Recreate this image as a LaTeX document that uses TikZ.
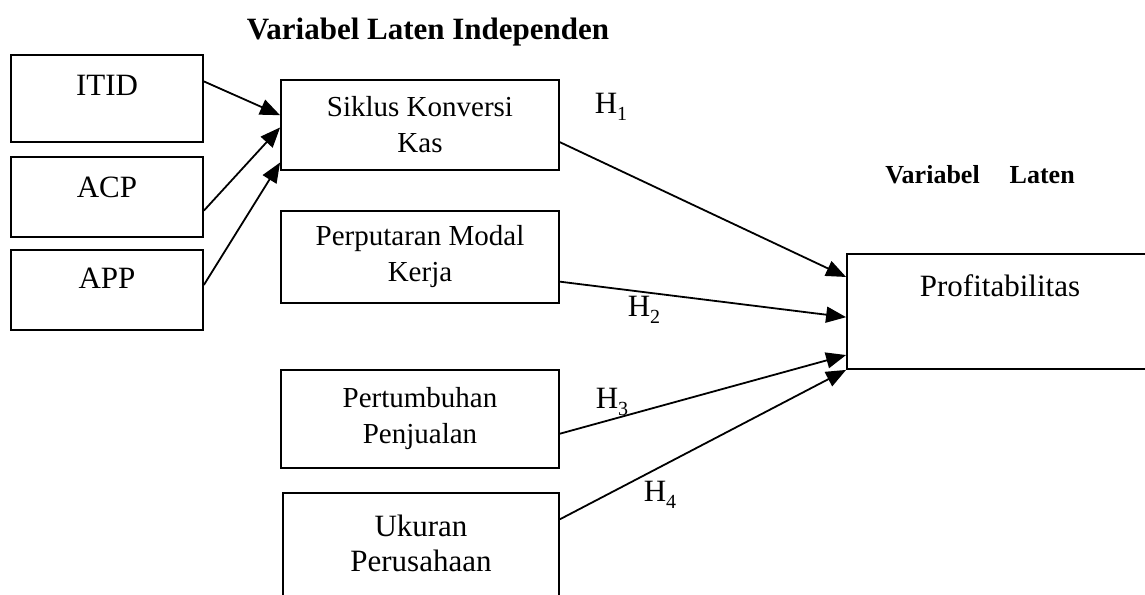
\documentclass[tikz,border=0pt]{standalone}
\usepackage{fontspec}
\setmainfont{Liberation Serif}
\usetikzlibrary{arrows.meta}

\tikzset{
  box/.style={draw, line width=1.8pt, inner sep=0pt, align=center},
  lbl/.style={inner sep=0pt, align=center},
  arr/.style={-{Triangle[length=20pt,width=16pt]}, line width=1.8pt},
  big/.style={font=\fontsize{31}{35}\selectfont},
  mid/.style={font=\fontsize{29}{36}\selectfont},
}
\newcommand{\hyp}[1]{H\raisebox{-0.45ex}{\fontsize{20}{20}\selectfont #1}}

\begin{document}
\begin{tikzpicture}[x=1pt, y=-1pt]
        \useasboundingbox (0,0) rectangle (1145,594);

        \node[lbl, font=\bfseries\fontsize{31}{36}\selectfont] (judul) at (428, 32) {Variabel Laten Independen};
        \node[lbl, font=\bfseries\fontsize{26}{30}\selectfont] (judul2) at (980, 175) {Variabel\hspace{30pt}Laten};

        \node[box, minimum width=192pt, minimum height=87pt] (itid) at (107, 98.5) {};
        \node[box, minimum width=192pt, minimum height=80pt] (acp)  at (107, 197) {};
        \node[box, minimum width=192pt, minimum height=80pt] (app)  at (107, 290) {};
        \node[lbl, big] (itid-t) at (107, 85) {ITID};
        \node[lbl, big] (acp-t)  at (107, 187) {ACP};
        \node[lbl, big] (app-t)  at (107, 278) {APP};

        \node[box, mid, minimum width=278pt, minimum height=90pt] (sik) at (420, 125) {Siklus Konversi\\Kas};
        \node[box, mid, minimum width=278pt, minimum height=92pt] (per) at (420, 257) {Perputaran Modal\\Kerja};
        \node[box, mid, minimum width=278pt, minimum height=98pt] (tum) at (420, 419) {Pertumbuhan\\Penjualan};
        \node[box, minimum width=276pt, minimum height=127pt] (uku) at (421, 556.5) {};
        \node[lbl, big] (uku-t) at (421, 543) {Ukuran\\Perusahaan};

        \node[box, minimum width=323pt, minimum height=115pt] (prof) at (1008.5, 311.5) {};
        \node[lbl, big] (prof-t) at (1000, 286) {Profitabilitas};

        \draw (itid.10) edge[arr] (sik.176)
              (acp.-8)  edge[arr] (sik.181)
              (app.3)   edge[arr] (sik.195);

        \draw (sik.-7) edge[arr] (prof.168)
              (per.-10) edge[arr] (prof.182)
              (tum.-6)  edge[arr] (prof.195)
              (uku.15)  edge[arr] (prof.south west);

        \node[lbl, big] (h1) at (611, 107) {\hyp{1}};
        \node[lbl, big] (h2) at (644, 310) {\hyp{2}};
        \node[lbl, big] (h3) at (612, 402) {\hyp{3}};
        \node[lbl, big] (h4) at (660, 495) {\hyp{4}};

      \end{tikzpicture}
\end{document}
